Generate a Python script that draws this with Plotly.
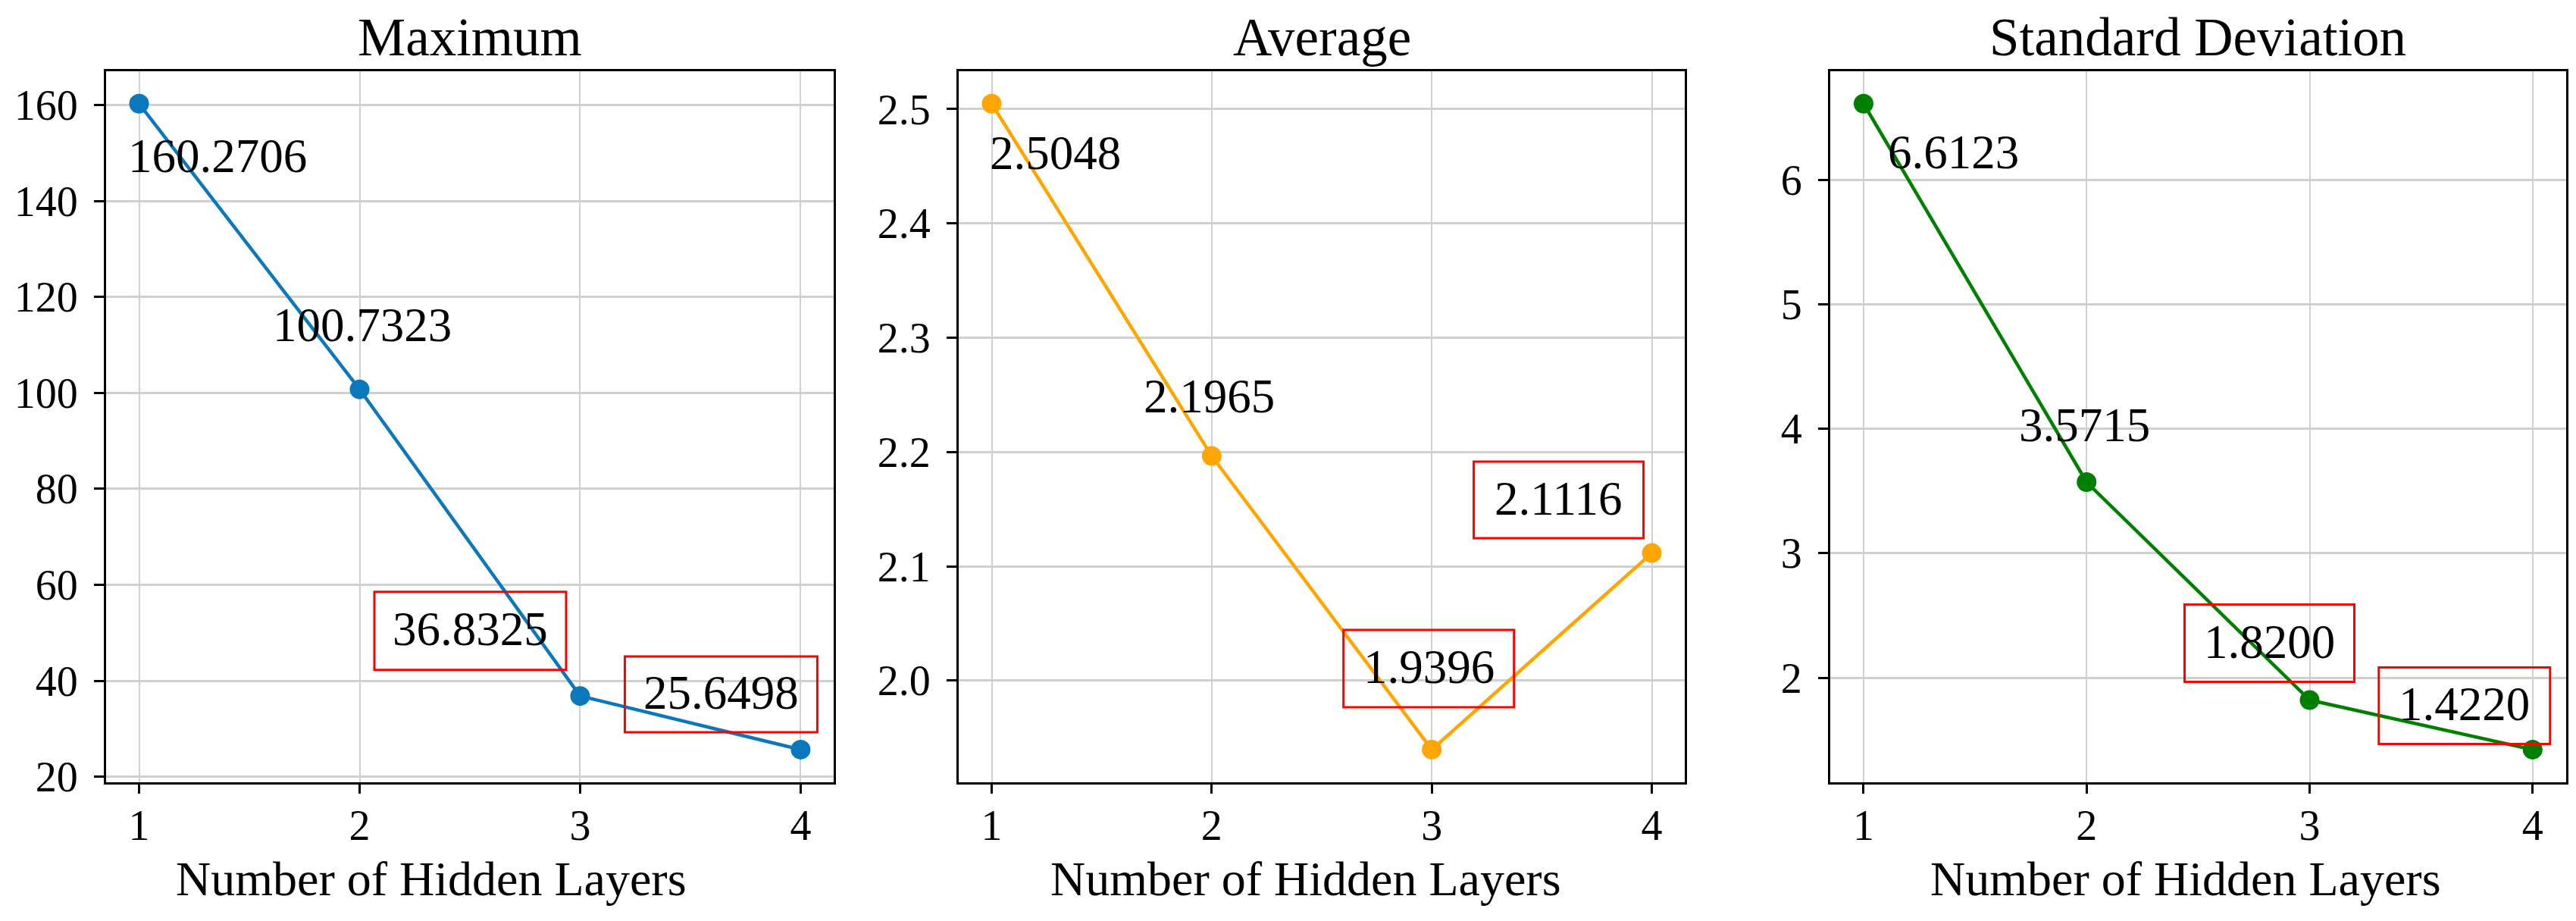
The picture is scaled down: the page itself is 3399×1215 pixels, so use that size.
import plotly.graph_objects as go

# ---------------- data ----------------
layers = [1, 2, 3, 4]
maximum = [160.2706, 100.7323, 36.8325, 25.6498]
average = [2.5048, 2.1965, 1.9396, 2.1116]
std_dev = [6.6123, 3.5715, 1.8200, 1.4220]

panel_titles = ["Maximum", "Average", "Standard Deviation"]
x_title = "Number of Hidden Layers"
x_ticks = [1, 2, 3, 4]
y_ticks_max = [20, 40, 60, 80, 100, 120, 140, 160]
y_ticks_avg = [2.0, 2.1, 2.2, 2.3, 2.4, 2.5]
y_ticks_std = [2, 3, 4, 5, 6]
boxed = [False, False, True, True]

# ---------------- styling / layout ----------------
FONT = "Liberation Serif"
colors = ["#0a78bb", "#FFA500", "#008000"]
series = [maximum, average, std_dev]
y_ticks = [y_ticks_max, y_ticks_avg, y_ticks_std]
y_fmt = ["d", ".1f", "d"]

x_domains = [[0.0388, 0.3213], [0.3698, 0.6517], [0.7081, 0.9938]]
y_domain = [0.1399, 0.9276]
x_title_centers = [561 / 3399, 1715 / 3399, 2876 / 3399]

# label offsets (pixels: dx right, dy down) and box sizes
label_offsets = [
    [(103, 71), (3, -83), (-145, -86), (-105, -73)],
    [(84, 67), (-3, -77), (-4, -107), (-123, -70)],
    [(119, 66), (-3, -73), (-53, -75), (-90, -58)],
]
box_sizes = [
    [None, None, (253, 103), (254, 100)],
    [None, None, (225, 102), (224, 101)],
    [None, None, (224, 102), (226, 101)],
]

fig = go.Figure()
annotations = []
shapes = []
layout_axes = {}

for i in range(3):
    vals = series[i]
    xa = "x" if i == 0 else f"x{i+1}"
    ya = "y" if i == 0 else f"y{i+1}"
    xkey = "xaxis" if i == 0 else f"xaxis{i+1}"
    ykey = "yaxis" if i == 0 else f"yaxis{i+1}"

    fig.add_trace(go.Scatter(
        x=layers, y=vals, mode="lines+markers", xaxis=xa, yaxis=ya,
        line=dict(color=colors[i], width=4.5),
        marker=dict(color=colors[i], size=26),
        showlegend=False, cliponaxis=False,
    ))

    lo, hi = min(vals), max(vals)
    span = hi - lo
    yr = [lo - 0.05 * span, hi + 0.05 * span]

    layout_axes[xkey] = dict(
        domain=x_domains[i], anchor=ya, range=[0.85, 4.15],
        tickvals=x_ticks, ticktext=[str(t) for t in x_ticks],
        showgrid=True, gridcolor="#d0d0d0", gridwidth=2,
        showline=True, mirror=True, linecolor="black", linewidth=3,
        ticks="outside", ticklen=12, tickwidth=3, tickcolor="black",
        tickfont=dict(family=FONT, size=56, color="black"),
        zeroline=False, ticklabelstandoff=-6,
    )
    layout_axes[ykey] = dict(
        domain=y_domain, anchor=xa, range=yr,
        tickvals=y_ticks[i], tickformat=y_fmt[i],
        showgrid=True, gridcolor="#d0d0d0", gridwidth=3,
        showline=True, mirror=True, linecolor="black", linewidth=3,
        ticks="outside", ticklen=13, tickwidth=3, tickcolor="black",
        tickfont=dict(family=FONT, size=56, color="black"),
        zeroline=False, ticklabelstandoff=10,
    )

    # panel title
    annotations.append(dict(
        text=panel_titles[i], xref="paper", yref="paper",
        x=(x_domains[i][0] + x_domains[i][1]) / 2, y=y_domain[1],
        xanchor="center", yanchor="bottom", showarrow=False, yshift=4,
        font=dict(family=FONT, size=71, color="black"),
    ))
    # x axis title
    annotations.append(dict(
        text=x_title, xref="paper", yref="paper",
        x=x_title_centers[i], y=0.064,
        xanchor="center", yanchor="top", showarrow=False,
        font=dict(family=FONT, size=64, color="black"),
    ))

    # value labels
    for j, (xv, yv) in enumerate(zip(layers, vals)):
        dx, dy = label_offsets[i][j]
        annotations.append(dict(
            text=f"{yv:.4f}", xref=xa, yref=ya, x=xv, y=yv,
            xshift=dx, yshift=-dy + 2, xanchor="center", yanchor="middle",
            showarrow=False,
            font=dict(family=FONT, size=63, color="black"),
        ))
        if boxed[j]:
            w, h = box_sizes[i][j]
            shapes.append(dict(
                type="rect", xref=xa, yref=ya,
                xsizemode="pixel", ysizemode="pixel",
                xanchor=xv, yanchor=yv,
                x0=dx - w / 2, x1=dx + w / 2,
                y0=-dy - h / 2, y1=-dy + h / 2,
                line=dict(color="#ff0000", width=3),
                fillcolor="rgba(0,0,0,0)", layer="above",
            ))

fig.update_layout(
    width=3399, height=1215,
    margin=dict(l=0, r=0, t=0, b=0),
    paper_bgcolor="white", plot_bgcolor="white",
    annotations=annotations, shapes=shapes,
    **layout_axes,
)

fig.write_html("out.html")
